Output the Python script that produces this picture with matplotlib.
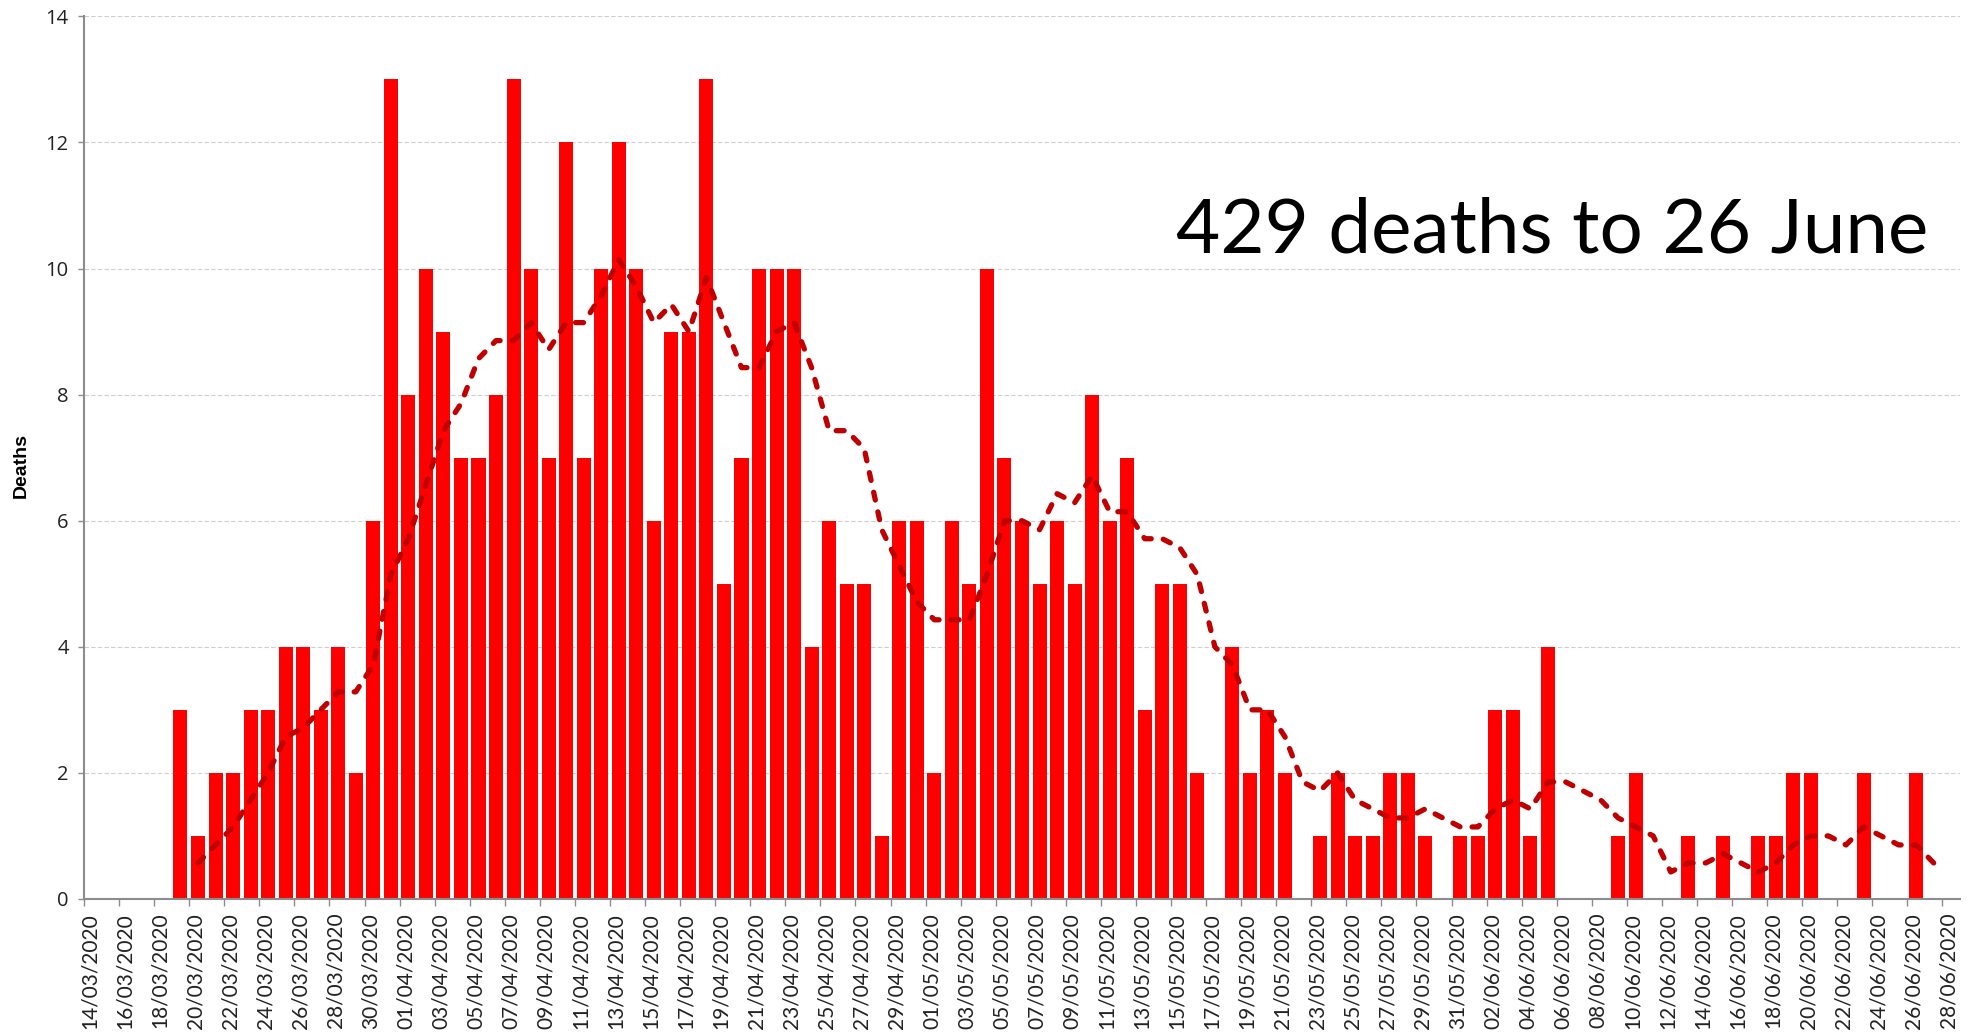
import pandas as pd
import matplotlib
matplotlib.use("Agg")
import matplotlib.pyplot as plt
import matplotlib.dates as mdates
from matplotlib.transforms import ScaledTranslation

# daily deaths, 14/03/2020 .. 27/06/2020
start = "2020-03-14"
march = [0, 0, 0, 0, 0, 3, 1, 2, 2, 3, 3, 4, 4, 3, 4, 2, 6, 13]
april = [8, 10, 9, 7, 7, 8, 13, 10, 7, 12, 7, 10, 12, 10, 6, 9, 9, 13, 5, 7,
         10, 10, 10, 4, 6, 5, 5, 1, 6, 6]
may = [2, 6, 5, 10, 7, 6, 5, 6, 5, 8, 6, 7, 3, 5, 5, 2, 0, 4, 2, 3,
       2, 0, 1, 2, 1, 1, 2, 2, 1, 0, 1]
june = [1, 3, 3, 1, 4, 0, 0, 0, 1, 2, 0, 0, 1, 0, 1, 0, 1, 1, 2, 2,
        0, 0, 2, 0, 0, 2, 0]
deaths = march + april + may + june
note = "429 deaths to 26 June"

dates = pd.date_range(start, periods=len(deaths))
centres = dates + pd.Timedelta(hours=12)
# 7 day moving average trendline, as in the original spreadsheet chart
avg = pd.Series(deaths).rolling(7).mean()

fig = plt.figure(figsize=(19.77, 10.32), dpi=100)
ax = fig.add_axes([0.0425, 0.1289, 0.9489, 0.8552])

ax.bar(centres, deaths, width=0.8, color="#FF0000", zorder=2)
ax.plot(centres, avg, color="#C00000", lw=3.8, dashes=(1.5, 2.3),
        dash_capstyle="round", zorder=3)

ax.set_ylim(0, 14)
ax.set_yticks(range(0, 15, 2))
ax.set_xlim(pd.Timestamp(start), pd.Timestamp("2020-06-29"))
ax.set_xticks(pd.date_range(start, "2020-06-28", freq="2D"))
ax.xaxis.set_major_formatter(mdates.DateFormatter("%d/%m/%Y"))

ax.set_axisbelow(True)
ax.yaxis.grid(True, color="#cfcfcf", linestyle=(0, (4, 2)), linewidth=0.8)
for s in ["top", "right"]:
    ax.spines[s].set_visible(False)
for s in ["left", "bottom"]:
    ax.spines[s].set_color("#8c8c8c")
    ax.spines[s].set_linewidth(1.5)

ax.tick_params(axis="x", length=5, width=1, color="#8c8c8c", pad=5,
               labelsize=15, labelrotation=90, labelcolor="#222222")
ax.tick_params(axis="y", length=4, width=1, color="#8c8c8c", pad=7,
               labelsize=14.5, labelcolor="#222222")
for lbl in ax.get_xticklabels():
    lbl.set_family("Lato")
    lbl.set_transform(lbl.get_transform() + ScaledTranslation(0.06, 0, fig.dpi_scale_trans))
for lbl in ax.get_yticklabels():
    lbl.set_family("Open Sans")

fig.text(21 / 1977, 1 - 466 / 1032, "Deaths", rotation=90, ha="center", va="center",
         fontsize=14, fontweight="bold", family="Liberation Sans")

ax.text(0.983, 0.733, note, transform=ax.transAxes, ha="right", va="baseline",
        fontsize=55, family="Lato", color="black")

fig.savefig("out.png", dpi=100)
